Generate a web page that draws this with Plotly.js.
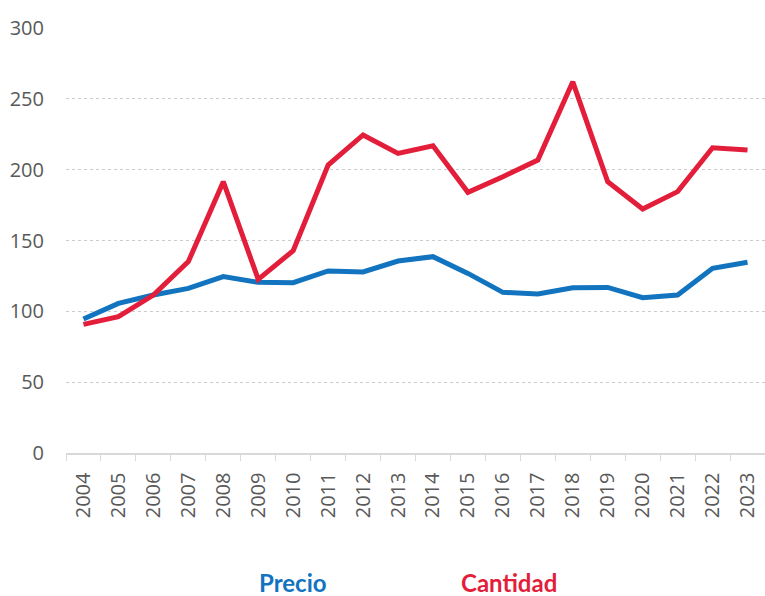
<!DOCTYPE html>
<html><head><meta charset="utf-8">
<script src="https://cdn.plot.ly/plotly-3.0.1.min.js"></script>
<style>body{margin:0;background:#fff}#c{width:765px;height:596px}</style>
</head><body><div id="c"></div>
<script>
const years = ["2004","2005","2006","2007","2008","2009","2010","2011","2012","2013","2014","2015","2016","2017","2018","2019","2020","2021","2022","2023"];
const precio = [94.6,105.6,111.5,116.2,124.5,120.5,120.2,128.5,127.8,135.5,138.6,126.8,113.4,112.2,116.7,116.9,109.6,111.5,130.4,134.6];
const cantidad = [90.8,96.2,111.5,135.1,191.5,122.6,142.8,203.3,224.5,211.5,216.9,184.0,195.0,206.8,262.0,191.5,172.2,184.5,215.5,213.9];
const yTicks = [0,50,100,150,200,250,300];
const blue = "#1273BF", red = "#E31E3B";
const traces = [
  {x: years, y: precio, type: "scatter", mode: "lines", name: "Precio", line: {color: blue, width: 5}},
  {x: years, y: cantidad, type: "scatter", mode: "lines", name: "Cantidad", line: {color: red, width: 5}}
];
const layout = {
  width: 765, height: 596,
  margin: {l: 66, r: 0, t: 28, b: 143},
  paper_bgcolor: "#fff", plot_bgcolor: "#fff",
  showlegend: false,
  font: {family: "Open Sans, sans-serif", color: "#595959"},
  xaxis: {
    type: "category", tickangle: -90, tickson: "boundaries",
    ticks: "outside", ticklen: 6, tickcolor: "#d9d9d9",
    showline: true, linecolor: "#d9d9d9", linewidth: 1.5,
    showgrid: false, tickfont: {size: 20, color: "#595959"},
    ticklabelstandoff: 10,
    range: [-0.5, 19.5], automargin: false
  },
  yaxis: {
    range: [0, 300], tickvals: yTicks, ticktext: yTicks.map(String),
    showgrid: true, gridcolor: "#cccccc", griddash: "dot", gridwidth: 1.2,
    zeroline: false, showline: false, ticks: "", ticklabelstandoff: 21,
    tickfont: {size: 20, color: "#595959"}, automargin: false
  },
  annotations: [
    {text: "<b>Precio</b>", x: 293, y: 582, xref: "paper", yref: "paper", showarrow: false,
     xanchor: "center", yanchor: "middle",
     font: {size: 24, color: blue, family: "Lato, sans-serif"}},
    {text: "<b>Cantidad</b>", x: 509, y: 582, xref: "paper", yref: "paper", showarrow: false,
     xanchor: "center", yanchor: "middle",
     font: {size: 24, color: red, family: "Lato, sans-serif"}}
  ]
};
const pw = 765 - 66, ph = 596 - 28 - 143;
layout.annotations.forEach(a => { a.x = (a.x - 66) / pw; a.y = (596 - 143 - a.y) / ph; });
Plotly.newPlot("c", traces, layout, {staticPlot: true});
</script></body></html>
